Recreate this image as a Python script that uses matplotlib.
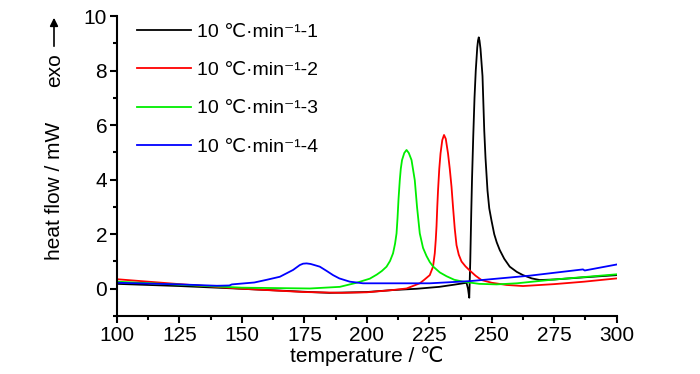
import matplotlib
matplotlib.use('Agg')
from matplotlib import pyplot as plt
from matplotlib.ticker import MultipleLocator

plt.rcParams['font.family'] = ['Liberation Sans', 'DejaVu Sans']

# DSC curves, values (temperature in degC, heat flow in mW)
t1 = [100, 125, 150, 175, 185, 200, 210, 220, 229, 235, 239.9, 240.5, 241.0, 241.4, 241.8, 242.1,
      242.6, 243.1, 243.6, 244.2, 244.5, 244.8, 245.1, 245.5, 246.3, 247.0, 247.5, 248.3, 249.0,
      249.9, 251.0, 252.0, 253.2, 255.0, 257.2, 260.0, 262.5, 266.0, 269.2, 275, 287, 300]
hf1 = [0.18, 0.10, 0.0, -0.11, -0.15, -0.12, -0.05, 0.0, 0.07, 0.15, 0.22, 0.0, -0.33, 1.0, 2.8, 4.0,
       5.6, 7.0, 8.0, 8.85, 9.1, 9.22, 9.1, 8.8, 7.8, 5.8, 4.8, 3.6, 2.95,
       2.5, 2.0, 1.7, 1.42, 1.1, 0.81, 0.62, 0.5, 0.38, 0.32, 0.34, 0.42, 0.5]

t2 = [100, 125, 150, 175, 190, 200, 210, 215.9, 221.2, 223, 225.2, 226.5, 227.2, 227.6, 227.9, 228.2,
      228.5, 229.0, 229.5, 230.2, 230.9, 231.6, 232.5, 233.2, 233.9, 234.5, 235.2, 235.9, 236.8,
      237.9, 239.5, 241.2, 243.5, 245.9, 250, 255.9, 262.5, 275, 287, 300]
hf2 = [0.35, 0.17, 0.0, -0.12, -0.15, -0.13, -0.05, 0.01, 0.2, 0.33, 0.5, 0.81, 1.3, 1.8, 2.3, 3.0,
       3.6, 4.4, 4.96, 5.45, 5.64, 5.5, 4.96, 4.4, 3.74, 3.0, 2.2, 1.6, 1.25,
       1.0, 0.82, 0.67, 0.48, 0.32, 0.22, 0.14, 0.1, 0.17, 0.26, 0.38]

t3 = [100, 125, 150, 177.2, 189.2, 195.9, 198, 201.2, 204, 206, 207.9, 209.3, 210.5, 211.3, 211.9,
      212.3, 212.7, 213.2, 213.6, 214.1, 215.0, 215.9, 216.8, 217.9, 219.2, 220.1, 221.2, 222.5,
      223.9, 225.2, 226.5, 229.2, 231.9, 235, 238.5, 245, 251.9, 260, 275, 287, 300]
hf3 = [0.26, 0.15, 0.04, 0.01, 0.07, 0.22, 0.28, 0.37, 0.52, 0.65, 0.81, 1.02, 1.30, 1.65, 2.03,
       2.6, 3.3, 3.98, 4.4, 4.72, 4.98, 5.09, 4.98, 4.72, 3.98, 3.0, 2.03, 1.5,
       1.2, 0.98, 0.82, 0.6, 0.46, 0.33, 0.26, 0.18, 0.16, 0.2, 0.34, 0.43, 0.53]

t4 = [100, 125, 140, 145, 146, 155, 160, 165.2, 170.5, 173.2, 174.5, 175.9, 177.5, 179, 181.2,
      184, 186.5, 189, 193.2, 198.5, 205.2, 225.2, 241.2, 265.2, 286.5, 287.2, 300]
hf4 = [0.22, 0.16, 0.11, 0.12, 0.16, 0.23, 0.33, 0.44, 0.69, 0.87, 0.92, 0.93, 0.91, 0.87, 0.81,
       0.65, 0.5, 0.38, 0.26, 0.2, 0.2, 0.2, 0.28, 0.48, 0.71, 0.67, 0.89]

labels = ['10 ℃·min⁻¹-1', '10 ℃·min⁻¹-2', '10 ℃·min⁻¹-3', '10 ℃·min⁻¹-4']
colors = ['black', 'red', '#00ee00', 'blue']

fig = plt.figure(figsize=(7, 3.74), dpi=100)
ax = fig.add_axes([0.167, 0.155, 0.714, 0.802])

for t, hf, lab, c in zip([t1, t2, t3, t4], [hf1, hf2, hf3, hf4], labels, colors):
    ax.plot(t, hf, color=c, lw=1.3, label=lab)

ax.set_xlim(100, 300)
ax.set_ylim(-1, 10)
ax.xaxis.set_major_locator(MultipleLocator(25))
ax.xaxis.set_minor_locator(MultipleLocator(12.5))
ax.yaxis.set_major_locator(MultipleLocator(2))
ax.yaxis.set_minor_locator(MultipleLocator(1))

for side in ['top', 'right']:
    ax.spines[side].set_visible(False)
for side in ['left', 'bottom']:
    ax.spines[side].set_linewidth(1.5)
ax.tick_params(which='major', direction='out', length=5, width=1.5, labelsize=15, pad=2)
ax.tick_params(which='minor', direction='out', length=3, width=1.5)

ax.set_xlabel('temperature / ℃', fontsize=15, labelpad=1)
fig.text(55 / 700, 1 - 191 / 374, 'heat flow / mW', rotation=90, fontsize=15, ha='center', va='center')

# exo arrow
fig.text(55 / 700, 1 - 70 / 374, 'exo', rotation=90, fontsize=15, ha='center', va='center')
ax.annotate('', xy=(54 / 700, 1 - 15 / 374), xytext=(54 / 700, 1 - 49 / 374),
            xycoords='figure fraction', textcoords='figure fraction',
            arrowprops=dict(arrowstyle='-|>', color='black', lw=1.2, mutation_scale=12))

ax.legend(loc='upper left', bbox_to_anchor=(137 / 700, 1 - 23 / 374), bbox_transform=fig.transFigure,
          frameon=False, fontsize=14, handlelength=2.8, handletextpad=0.3, labelspacing=1.07,
          borderpad=0, borderaxespad=0)

plt.savefig('out.png', dpi=100)
